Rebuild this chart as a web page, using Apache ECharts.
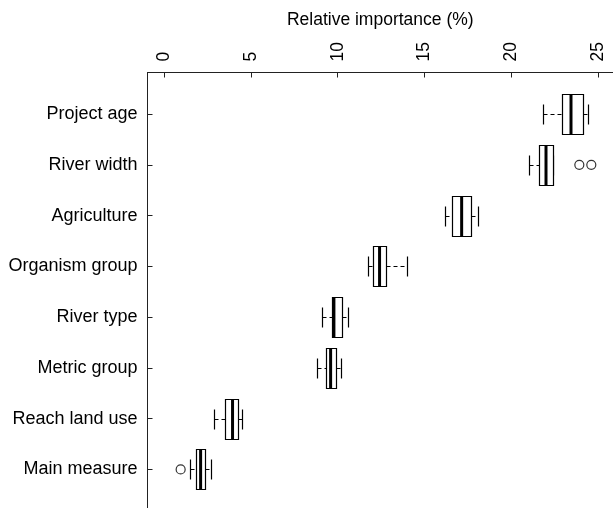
<!DOCTYPE html>
<html>
<head>
<meta charset="utf-8">
<script src="https://cdn.jsdelivr.net/npm/echarts@6/dist/echarts.min.js"></script>
<style>
  html, body { margin: 0; padding: 0; background: #fff; }
  #chart { width: 613px; height: 508px; }
</style>
</head>
<body>
<div id="chart"></div>
<script>
// categories from top to bottom
var categories = ['Project age', 'River width', 'Agriculture', 'Organism group',
  'River type', 'Metric group', 'Reach land use', 'Main measure']
var lowerWhisker = [21.83, 21.02, 16.20, 11.73, 9.11, 8.78, 2.89, 1.49]
var q1 = [22.94, 21.60, 16.59, 12.02, 9.66, 9.31, 3.48, 1.85]
var median = [23.44, 22.00, 17.14, 12.41, 9.78, 9.59, 3.94, 2.10]
var q3 = [24.15, 22.40, 17.66, 12.79, 10.22, 9.89, 4.23, 2.35]
var upperWhisker = [24.40, 22.40, 18.10, 13.98, 10.58, 10.18, 4.48, 2.69]
// [category index, value]
var outliers = [[1, 23.92], [1, 24.61], [7, 0.95]]
var xTicks = [0, 5, 10, 15, 20, 25]

var chart = echarts.init(document.getElementById('chart'))

var boxData = categories.map(function (name, i) {
  return [i, lowerWhisker[i], q1[i], median[i], q3[i], upperWhisker[i]]
})

function renderBox (params, api) {
  var idx = api.value(0)
  var yc = Math.round(api.coord([0, idx])[1]) + 0.5
  var px = function (v) { return Math.round(api.coord([v, idx])[0]) + 0.5 }
  var h = api.size([0, 1])[1] * 0.8
  var hh = Math.round(h / 2)
  var cap = Math.round(h / 4)
  var xlw = px(api.value(1))
  var xq1 = px(api.value(2))
  var xmed = api.coord([api.value(3), idx])[0]
  var xq3 = px(api.value(4))
  var xuw = px(api.value(5))
  var dash = { stroke: '#000', lineWidth: 1, lineDash: [4, 3] }
  var solid = { stroke: '#000', lineWidth: 1.2 }
  return {
    type: 'group',
    children: [
      { type: 'line', shape: { x1: xlw, y1: yc, x2: xq1, y2: yc }, style: dash },
      { type: 'line', shape: { x1: xq3, y1: yc, x2: xuw, y2: yc }, style: dash },
      { type: 'line', shape: { x1: xlw, y1: yc - cap, x2: xlw, y2: yc + cap }, style: solid },
      { type: 'line', shape: { x1: xuw, y1: yc - cap, x2: xuw, y2: yc + cap }, style: solid },
      {
        type: 'rect',
        shape: { x: xq1, y: yc - hh, width: xq3 - xq1, height: hh * 2 },
        style: { fill: '#fff', stroke: '#000', lineWidth: 1.2 }
      },
      { type: 'line', shape: { x1: xmed, y1: yc - hh, x2: xmed, y2: yc + hh }, style: { stroke: '#000', lineWidth: 3 } }
    ]
  }
}

chart.setOption({
  animation: false,
  grid: {
    left: 147.5,
    top: 72.5,
    right: 0,
    bottom: -3,
    outerBoundsMode: 'none',
    containLabel: false
  },
  xAxis: {
    type: 'value',
    position: 'top',
    min: -0.96,
    max: 25.86,
    name: 'Relative importance (%)',
    nameLocation: 'middle',
    nameGap: 43,
    nameTextStyle: { fontFamily: 'Liberation Sans', fontSize: 17.5, color: '#000' },
    axisLine: { show: true, onZero: false, lineStyle: { color: '#222', width: 1 } },
    axisTick: { show: true, inside: true, length: 5, customValues: xTicks, lineStyle: { color: '#222' } },
    axisLabel: {
      customValues: xTicks,
      rotate: -90,
      margin: 11,
      fontFamily: 'Liberation Sans',
      fontSize: 17.5,
      color: '#000'
    },
    splitLine: { show: false }
  },
  yAxis: {
    type: 'value',
    inverse: true,
    min: -0.82,
    max: 7.82,
    axisLine: { show: true, onZero: false, lineStyle: { color: '#222', width: 1 } },
    axisTick: { show: true, inside: true, length: 5, customValues: [0, 1, 2, 3, 4, 5, 6, 7], lineStyle: { color: '#222' } },
    axisLabel: {
      customValues: [0, 1, 2, 3, 4, 5, 6, 7],
      formatter: function (v) { return categories[v] },
      margin: 10,
      fontFamily: 'Liberation Sans',
      fontSize: 18,
      color: '#000'
    },
    splitLine: { show: false }
  },
  series: [
    {
      type: 'custom',
      renderItem: renderBox,
      data: boxData,
      encode: { x: [1, 2, 3, 4, 5], y: 0 },
      clip: false
    },
    {
      type: 'scatter',
      data: outliers.map(function (o) { return [o[1], o[0]] }),
      symbol: 'circle',
      symbolSize: 9,
      itemStyle: { color: '#fff', borderColor: '#000', borderWidth: 1.2 }
    }
  ]
})
</script>
</body>
</html>
